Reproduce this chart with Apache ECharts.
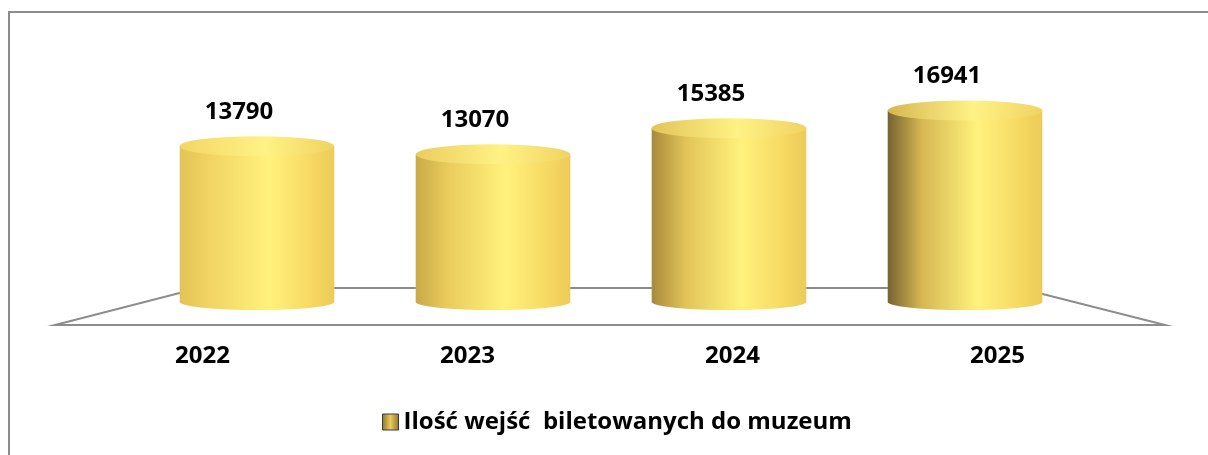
<!DOCTYPE html>
<html>
<head>
<meta charset="utf-8">
<script src="https://cdn.jsdelivr.net/npm/echarts@6/dist/echarts.min.js"></script>
<style>
  html, body { margin: 0; padding: 0; background: #fff; }
  #chart { width: 1208px; height: 455px; }
</style>
</head>
<body>
<div id="chart"></div>
<script>
// Ticketed museum entries per year
const years = ['2022', '2023', '2024', '2025'];
const entries = [13790, 13070, 15385, 16941];
const seriesName = 'Ilość wejść  biletowanych do muzeum';

const FONT = '"Open Sans", Lato, sans-serif';

// Side shading of each cylinder: the left edge darkens towards the right of the chart
const leftShade = ['#e2c456', '#c9aa48', '#a8893c', '#756330'];
const midShade = ['#f3d665', '#ebcd5e', '#e2c458', '#d6b752'];

function sideGradient(i) {
  return new echarts.graphic.LinearGradient(0, 0, 1, 0, [
    { offset: 0, color: leftShade[i] },
    { offset: 0.22, color: midShade[i] },
    { offset: 0.58, color: '#fff27c' },
    { offset: 0.85, color: '#f6d963' },
    { offset: 1, color: '#eccb58' }
  ]);
}
function capGradient(i) {
  return new echarts.graphic.LinearGradient(0, 0, 1, 0, [
    { offset: 0, color: midShade[i] },
    { offset: 0.55, color: '#fff285' },
    { offset: 1, color: '#f0d362' }
  ]);
}
function ellipsePath(cx, cy, rx, ry) {
  return 'M' + (cx - rx) + ',' + cy +
    ' A' + rx + ',' + ry + ' 0 1 0 ' + (cx + rx) + ',' + cy +
    ' A' + rx + ',' + ry + ' 0 1 0 ' + (cx - rx) + ',' + cy + ' Z';
}

function renderCylinder(params, api) {
  const i = api.value(0);
  const v = api.value(1);
  const top = api.coord([i, v]);
  const base = api.coord([i, 0]);
  const rx = api.size([1, 0])[0] * 0.655 / 2;
  const ryTop = 10, ryBottom = 8;
  const cx = top[0];
  return {
    type: 'group',
    children: [
      {
        type: 'path',
        shape: { pathData: ellipsePath(cx, base[1], rx, ryBottom) },
        style: { fill: sideGradient(i) }
      },
      {
        type: 'rect',
        shape: { x: cx - rx, y: top[1], width: rx * 2, height: base[1] - top[1] },
        style: { fill: sideGradient(i) }
      },
      {
        type: 'path',
        shape: { pathData: ellipsePath(cx, top[1], rx, ryTop) },
        style: { fill: capGradient(i) }
      },
      {
        type: 'text',
        x: cx - 18,
        y: top[1] - 34,
        style: {
          text: String(v),
          fill: '#000',
          font: 'bold 24px ' + FONT,
          align: 'center',
          verticalAlign: 'middle'
        }
      }
    ]
  };
}

// Floor plane of the 3D plot area
function renderFloor(params, api) {
  const cs = params.coordSys;
  const baseY = cs.y + cs.height;
  const frontY = baseY + 23, backY = baseY - 14;
  return {
    type: 'polygon',
    shape: {
      points: [
        [cs.x - 84, frontY],
        [cs.x + cs.width + 82, frontY],
        [cs.x + cs.width - 64, backY],
        [cs.x + 60, backY]
      ]
    },
    style: { fill: '#fff', stroke: '#8c8c8c', lineWidth: 2 }
  };
}

const chart = echarts.init(document.getElementById('chart'), null, { renderer: 'canvas' });
chart.setOption({
  animation: false,
  backgroundColor: '#fff',
  graphic: [{
    type: 'rect',
    shape: { x: 9, y: 12, width: 1300, height: 600 },
    style: { fill: 'none', stroke: '#8c8c8c', lineWidth: 2 },
    silent: true
  }],
  grid: [
    { left: 139, right: 125, top: 76, bottom: 153 },
    { left: 70, right: 78, top: 300, height: 25 }
  ],
  xAxis: [
    { type: 'category', data: years, gridIndex: 0, show: false },
    {
      type: 'category', data: years, gridIndex: 1,
      axisLine: { show: false }, axisTick: { show: false },
      axisLabel: { margin: 19, color: '#000', fontSize: 24, fontWeight: 'bold', fontFamily: FONT }
    }
  ],
  yAxis: [
    { type: 'value', min: 0, max: 20000, gridIndex: 0, show: false },
    { type: 'value', gridIndex: 1, show: false }
  ],
  legend: {
    top: 410,
    left: 382,
    padding: 0,
    itemWidth: 16,
    itemHeight: 16,
    itemGap: 10,
    textStyle: { color: '#000', fontSize: 24, fontWeight: 'bold', fontFamily: FONT },
    data: [{
      name: seriesName,
      icon: 'rect',
      itemStyle: {
        color: new echarts.graphic.LinearGradient(0, 0, 1, 0, [
          { offset: 0, color: '#8a7334' },
          { offset: 0.5, color: '#e9cc5c' },
          { offset: 1, color: '#8a7334' }
        ]),
        borderColor: '#3c3c3c',
        borderWidth: 1
      }
    }]
  },
  series: [
    {
      type: 'custom',
      name: 'floor',
      xAxisIndex: 0, yAxisIndex: 0,
      silent: true,
      z: 1,
      data: [[0, 0]],
      renderItem: renderFloor
    },
    {
      type: 'custom',
      name: seriesName,
      xAxisIndex: 0, yAxisIndex: 0,
      z: 2,
      itemStyle: { color: '#e9cc5c' },
      encode: { x: 0, y: 1 },
      data: years.map((y, i) => [i, entries[i]]),
      renderItem: renderCylinder
    }
  ]
});
</script>
</body>
</html>
